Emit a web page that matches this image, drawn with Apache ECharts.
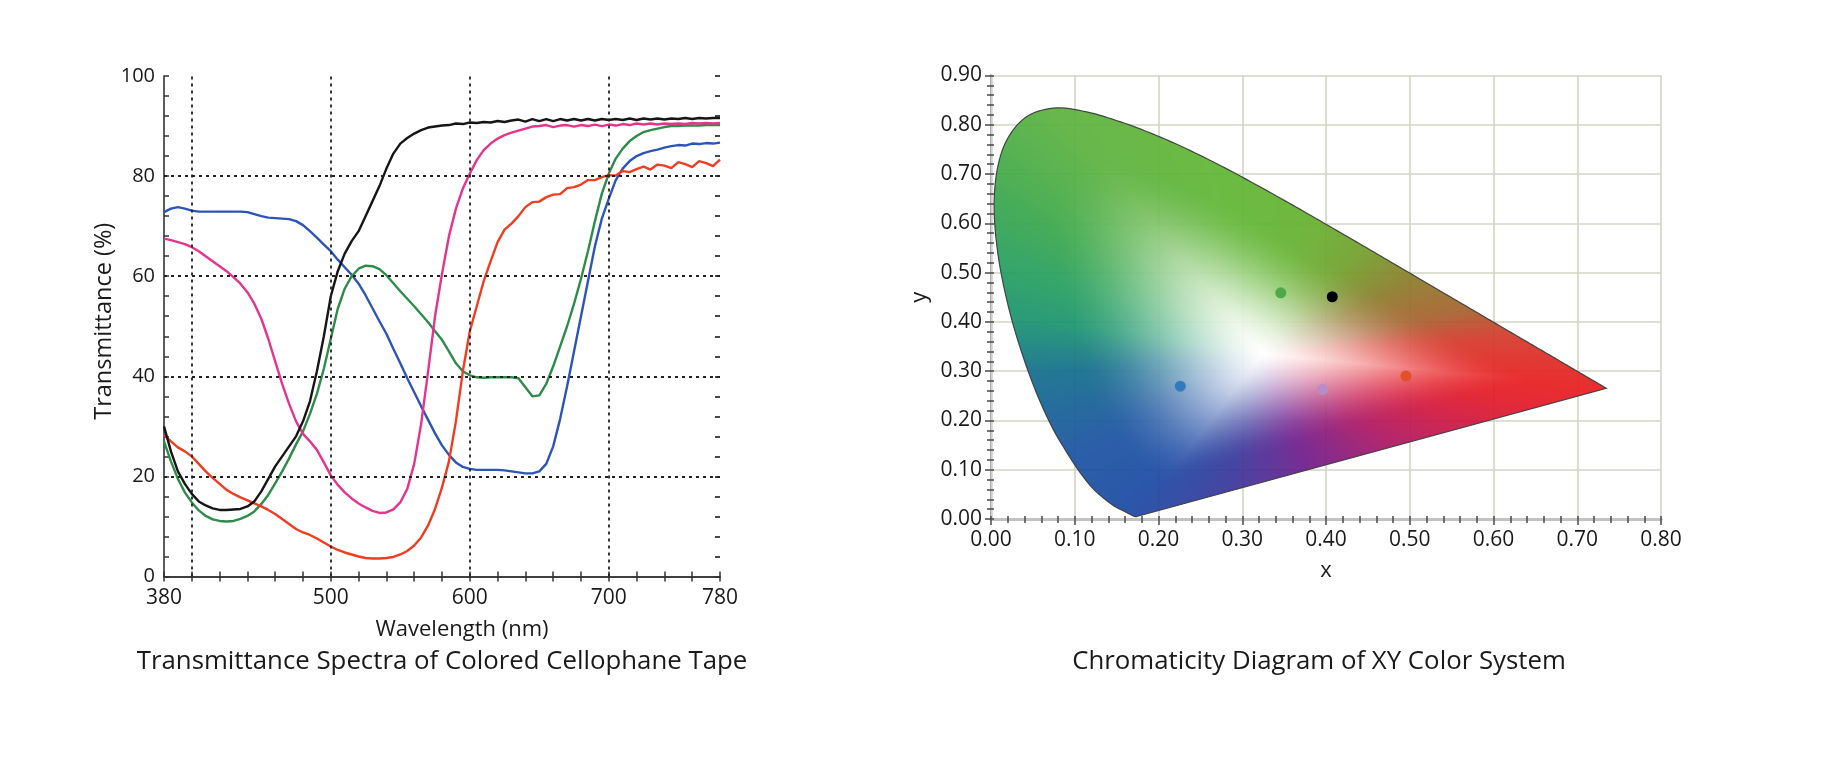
<!DOCTYPE html>
<html><head><meta charset="utf-8">
<script src="https://cdn.jsdelivr.net/npm/echarts@6/dist/echarts.min.js"></script>
<style>html,body{margin:0;padding:0;background:#fff}#c{width:1837px;height:762px}</style>
</head><body><div id="c"></div>
<script>
// ---------- Left chart data ----------
const wavelengths = [380,385,390,395,400,405,410,415,420,425,430,435,440,445,450,455,460,465,470,475,
  480,485,490,495,500,505,510,515,520,525,530,535,540,545,550,555,560,565,570,575,
  580,585,590,595,600,605,610,615,620,625,630,635,640,645,650,655,660,665,670,675,
  680,685,690,695,700,705,710,715,720,725,730,735,740,745,750,755,760,765,770,775,780];
const blackTape = [30,25,21,18.5,16.5,15,14.2,13.6,13.3,13.3,13.4,13.5,14,15,17,19.5,22,24,26,28,
  31,35,41,48,56,61,64.5,67,69,72,75,78,81.5,84.5,86.5,87.6,88.5,89.2,89.7,89.9,
  90.1,90.2,90.5,90.4,90.7,90.6,90.8,90.7,91.0,90.8,91.1,91.3,90.9,91.4,91.0,91.4,91.0,91.4,91.1,91.4,
  91.1,91.4,91.1,91.4,91.2,91.4,91.2,91.5,91.2,91.5,91.3,91.5,91.3,91.5,91.4,91.6,91.4,91.6,91.5,91.6,91.6];
const pinkTape = [67.5,67.2,66.8,66.4,65.8,65,64,63,62,61,59.8,58.5,56.8,54.5,51.5,47.5,43,38.5,34.5,31,
  28.5,27,25.3,22.8,20.2,18.3,16.8,15.6,14.6,13.8,13.1,12.7,12.8,13.4,14.8,17.5,22.5,30.5,41,52,
  60.5,68,73.5,77.5,80.5,83.2,85.2,86.5,87.5,88.2,88.7,89.1,89.5,89.9,90,90.2,89.8,90.1,90.2,89.9,
  90.2,90,90.3,90,90.3,90.1,90.4,90.2,90.5,90.3,90.5,90.3,90.5,90.4,90.5,90.4,90.6,90.5,90.6,90.5,90.6];
const blueTape = [72.8,73.5,73.8,73.5,73.1,72.9,72.9,72.9,72.9,72.9,72.9,72.9,72.8,72.4,72,71.7,71.6,71.5,71.4,71,
  70.2,69,67.7,66.3,65,63.3,61.8,60.3,58.5,56.2,53.6,51,48.5,45.5,42.6,39.6,36.8,34,31.3,28.6,
  26.2,24.3,22.8,21.9,21.5,21.3,21.3,21.3,21.3,21.2,21,20.8,20.6,20.6,21,22.5,26,31.5,38,45,
  52,59,66,71.5,75.5,79.2,81.5,83,84,84.6,85,85.3,85.7,86,86.2,86.1,86.5,86.4,86.6,86.5,86.7];
const greenTape = [27,23,19.5,16.8,14.8,13.2,12.1,11.4,11.1,11,11.1,11.5,12.1,13,14.5,16.3,18.6,21,23.6,26.4,
  29,32.5,36.5,41.5,47.5,53.5,57.5,60,61.5,62.1,62,61.4,60.2,58.6,57,55.5,54,52.4,50.8,49,
  47.3,45,42.6,41,40.2,39.8,39.7,39.8,39.8,39.8,39.8,39.6,37.8,36,36.2,38.5,42,46,50,54.5,
  59.5,65,71,76.5,80.5,83.5,85.5,87,88,88.8,89.2,89.5,89.8,90,90,90.1,90.1,90.1,90.2,90.2,90.2];
const redTape = [28.3,27,25.8,25,24,22.5,21,19.7,18.5,17.3,16.5,15.8,15.2,14.6,14,13.3,12.5,11.5,10.5,9.5,
  8.8,8.3,7.6,6.8,6,5.3,4.8,4.4,4,3.7,3.6,3.6,3.7,3.9,4.4,5.1,6.2,7.8,10.2,13.5,
  17.8,23,31,41,49,54,59,63,66.8,69.3,70.5,72,73.8,74.8,74.9,75.8,76.3,76.4,77.6,77.8,
  78.3,79.2,79.2,79.8,80.2,80.1,81,80.8,81.4,81.9,81.3,82.3,82.1,81.6,82.8,82.4,81.8,83,82.6,82,83.3];
const wavelengthLabels = [380,500,600,700,780];
const wavelengthGrid = [400,500,600,700];
const transmittanceGrid = [20,40,60,80];

// ---------- Right chart data ----------
const locusX = [0.1741,0.1738,0.1733,0.1726,0.1714,0.1689,0.1644,0.1566,0.1440,0.1241,0.1096,0.0913,0.0687,0.0454,0.0235,0.0082,0.0039,0.0139,0.0389,0.0743,0.1142,0.1547,0.1929,0.2296,0.2658,0.3016,0.3373,0.3731,0.4087,0.4441,0.4788,0.5125,0.5448,0.5752,0.6029,0.6270,0.6482,0.6658,0.6801,0.6915,0.7006,0.7079,0.7140,0.7190,0.7230,0.7260,0.7283,0.7300,0.7311,0.7320,0.7334,0.7347];
const locusY = [0.0050,0.0049,0.0048,0.0048,0.0051,0.0069,0.0109,0.0177,0.0297,0.0578,0.0868,0.1327,0.2007,0.2950,0.4127,0.5384,0.6548,0.7502,0.8120,0.8338,0.8262,0.8059,0.7816,0.7543,0.7243,0.6923,0.6589,0.6245,0.5896,0.5547,0.5202,0.4866,0.4544,0.4242,0.3965,0.3725,0.3514,0.3340,0.3197,0.3083,0.2993,0.2920,0.2859,0.2809,0.2770,0.2740,0.2717,0.2700,0.2689,0.2680,0.2666,0.2653];
const tapePointX = [0.226,0.396,0.4955,0.346,0.4075];
const tapePointY = [0.2695,0.263,0.290,0.459,0.451];

// ---------- styles ----------
const tapePointColors = ['#2f7bbd','#b88cc6','#e0502a','#4fa84a','#000000'];
const whitePoint = [0.325,0.335];
const edgeAnchors = [
 [0.7347,0.2653,[232,30,32]],[0.627,0.3725,[212,58,42]],[0.575,0.424,[168,96,46]],
 [0.51,0.487,[140,122,42]],[0.44,0.555,[112,162,44]],[0.37,0.625,[100,178,48]],
 [0.27,0.72,[96,182,52]],[0.075,0.834,[92,178,62]],[0.004,0.65,[55,166,76]],
 [0.008,0.54,[40,160,92]],[0.0235,0.4127,[26,148,110]],[0.0454,0.295,[18,110,140]],
 [0.0913,0.1327,[26,84,160]],[0.1566,0.0177,[26,74,164]],[0.28,0.055,[55,55,155]],
 [0.38,0.10,[112,28,140]],[0.48,0.147,[172,22,100]],[0.58,0.194,[210,22,62]],[0.66,0.23,[226,26,38]]
];
const FONT = '"Open Sans", "Noto Sans", sans-serif';
const TXT = '#1a1a1a';

const chart = echarts.init(document.getElementById('c'), null, {renderer:'canvas', width:1837, height:762});

// Catmull-Rom densification of projected locus (pixel space) for a smooth outline
function splinePts(P, steps) {
  const out = [];
  for (let i = 0; i < P.length - 1; i++) {
    const p0 = P[Math.max(0, i-1)], p1 = P[i], p2 = P[i+1], p3 = P[Math.min(P.length-1, i+2)];
    for (let s = 0; s < steps; s++) {
      const t = s/steps, t2 = t*t, t3 = t2*t;
      const f = k => 0.5*((2*p1[k]) + (-p0[k]+p2[k])*t + (2*p0[k]-5*p1[k]+4*p2[k]-p3[k])*t2 + (-p0[k]+3*p1[k]-3*p2[k]+p3[k])*t3);
      out.push([f(0), f(1)]);
    }
  }
  out.push(P[P.length-1]);
  return out;
}

// ---- texture for the chromaticity fill ----
let texCache = null;
function buildTexture(api, pts) {
  const p0 = api.coord([0,0]), p1 = api.coord([0.8,0.9]);
  const key = p0.join(',') + p1.join(',');
  if (texCache && texCache.key === key) return texCache.canvas;
  const N = 2048;
  const bd = new Float32Array(N);
  const n = locusX.length;
  for (let k = 0; k < N; k++) {
    const a = -Math.PI + 2*Math.PI*k/N;
    const dx = Math.cos(a), dy = Math.sin(a);
    let best = 1e9;
    for (let i = 0; i < n; i++) {
      const ax = locusX[i], ay = locusY[i];
      const bx = locusX[(i+1)%n], by = locusY[(i+1)%n];
      const ex = bx-ax, ey = by-ay;
      const den = dx*(-ey) - dy*(-ex);
      if (Math.abs(den) < 1e-12) continue;
      const rx = ax - whitePoint[0], ry = ay - whitePoint[1];
      const t = (rx*(-ey) - ry*(-ex)) / den;
      const u = (dx*ry - dy*rx) / den;
      if (t > 0 && u >= -1e-6 && u <= 1+1e-6 && t < best) best = t;
    }
    bd[k] = best;
  }
  const anc = edgeAnchors.map(a => ({ang: Math.atan2(a[1]-whitePoint[1], a[0]-whitePoint[0]), c: a[2]}))
    .sort((p,q) => p.ang - q.ang);
  function edgeColor(a) {
    const m = anc.length;
    for (let i = 0; i < m - 1; i++) {
      const A = anc[i], B = anc[i+1];
      if (a >= A.ang && a <= B.ang) {
        const t = (a-A.ang)/(B.ang-A.ang);
        return [A.c[0]+(B.c[0]-A.c[0])*t, A.c[1]+(B.c[1]-A.c[1])*t, A.c[2]+(B.c[2]-A.c[2])*t];
      }
    }
    const A = anc[m-1], B = anc[0];
    let aa = a; if (aa < A.ang) aa += 2*Math.PI;
    const t = (aa - A.ang)/((B.ang + 2*Math.PI) - A.ang);
    return [A.c[0]+(B.c[0]-A.c[0])*t, A.c[1]+(B.c[1]-A.c[1])*t, A.c[2]+(B.c[2]-A.c[2])*t];
  }
  let minx=1e9,maxx=-1e9,miny=1e9,maxy=-1e9;
  pts.forEach(p => { minx=Math.min(minx,p[0]); maxx=Math.max(maxx,p[0]); miny=Math.min(miny,p[1]); maxy=Math.max(maxy,p[1]); });
  const bx = Math.max(0, Math.floor(minx)-2), by = Math.max(0, Math.floor(miny)-2);
  const bw = Math.ceil(maxx)+2-bx, bh = Math.ceil(maxy)+2-by;
  const cv = document.createElement('canvas');
  cv.width = chart.getWidth(); cv.height = chart.getHeight();
  const ctx = cv.getContext('2d');
  const img = ctx.createImageData(bw, bh);
  const sx = 0.8/(p1[0]-p0[0]), sy = 0.9/(p1[1]-p0[1]);
  for (let j = 0; j < bh; j++) {
    const yv = (by + j + 0.5 - p0[1]) * sy;
    for (let i = 0; i < bw; i++) {
      const xv = (bx + i + 0.5 - p0[0]) * sx;
      const dx = xv - whitePoint[0], dy = yv - whitePoint[1];
      const d = Math.sqrt(dx*dx+dy*dy);
      const a = Math.atan2(dy, dx);
      let k = Math.round((a + Math.PI)/(2*Math.PI)*N); if (k >= N) k -= N;
      const s = Math.min(1, d / bd[k]);
      let t = Math.min(1, Math.max(0, (s + 0.1)/0.9));
      let f = t*t*(3 - 2*t);
      f = Math.max(0, (f - 0.034)/(1 - 0.034));
      const ec = edgeColor(a);
      const o = (j*bw + i)*4;
      img.data[o]   = 255 + (ec[0]-255)*f;
      img.data[o+1] = 255 + (ec[1]-255)*f;
      img.data[o+2] = 255 + (ec[2]-255)*f;
      img.data[o+3] = 255;
    }
  }
  ctx.putImageData(img, bx, by);
  texCache = {key, canvas: cv};
  return cv;
}

const axisDark = '#333';
const option = {
  animation: false,
  backgroundColor: '#fff',
  textStyle: {fontFamily: FONT},
  title: [
    {text: 'Transmittance Spectra of Colored Cellophane Tape', left: 437, top: 644, textAlign: 'center',
     textStyle: {fontFamily: FONT, fontSize: 25.8, fontWeight: 'normal', color: TXT}},
    {text: 'Chromaticity Diagram of XY Color System', left: 1314, top: 644, textAlign: 'center',
     textStyle: {fontFamily: FONT, fontSize: 25.8, fontWeight: 'normal', color: TXT}}
  ],
  grid: [
    {left: 164, right: 1837-720, top: 76, bottom: 762-576.5, outerBoundsMode: 'none', containLabel: false},
    {left: 991, right: 1837-1661, top: 75.5, bottom: 762-519, outerBoundsMode: 'none', containLabel: false}
  ],
  xAxis: [
    {gridIndex: 0, type: 'value', min: 380, max: 780, interval: 20, position: 'bottom',
     axisLine: {show: true, lineStyle: {color: axisDark, width: 1.6}},
     axisTick: {show: true, inside: true, length: 5, lineStyle: {color: axisDark, width: 1.5}},
     axisLabel: {show: true, margin: 11, fontSize: 21, color: TXT, fontFamily: FONT,
       formatter: v => wavelengthLabels.indexOf(Math.round(v)) >= 0 ? String(Math.round(v)) : ''},
     splitLine: {show: false},
     name: 'Wavelength (nm)', nameLocation: 'middle', nameGap: 42,
     nameTextStyle: {fontSize: 22, color: TXT, fontFamily: FONT, padding: [0,0,0,40]}},
    {gridIndex: 0, type: 'value', min: 380, max: 780, interval: 20, position: 'top',
     axisLine: {show: true, lineStyle: {color: axisDark, width: 1.6}},
     axisTick: {show: true, inside: true, length: 5, lineStyle: {color: axisDark, width: 1.5}},
     axisLabel: {show: false}, splitLine: {show: false}},
    {gridIndex: 1, type: 'value', min: 0, max: 0.8, interval: 0.1, position: 'bottom',
     axisLine: {show: true, lineStyle: {color: '#4a4a4a', width: 2.5}},
     axisTick: {show: true, inside: false, length: 6, lineStyle: {color: '#4a4a4a', width: 1.5}},
     minorTick: {show: true, splitNumber: 5, length: 4, lineStyle: {color: '#4a4a4a', width: 1.5}},
     axisLabel: {margin: 11, fontSize: 21, color: TXT, fontFamily: FONT, formatter: v => v.toFixed(2)},
     splitLine: {show: true, lineStyle: {color: '#d2d5c4', width: 1.6}},
     name: 'x', nameLocation: 'middle', nameGap: 41,
     nameTextStyle: {fontSize: 22, color: TXT, fontFamily: FONT}},
    {gridIndex: 1, type: 'value', min: 0, max: 0.8, interval: 0.1, position: 'top',
     axisLine: {show: true, lineStyle: {color: '#c2c2c2', width: 3}},
     axisTick: {show: false}, axisLabel: {show: false}, splitLine: {show: false}},
    {gridIndex: 1, type: 'value', min: 0, max: 0.8, interval: 0.1, position: 'bottom',
     axisLine: {show: false},
     axisTick: {show: true, inside: true, length: 3, lineStyle: {color: '#4a4a4a', width: 1.5}},
     minorTick: {show: true, splitNumber: 5, length: 3, lineStyle: {color: '#4a4a4a', width: 1.5}},
     axisLabel: {show: false}, splitLine: {show: false}}
  ],
  yAxis: [
    {gridIndex: 0, type: 'value', min: 0, max: 100, interval: 20, position: 'left',
     axisLine: {show: true, lineStyle: {color: axisDark, width: 1.6}},
     axisTick: {show: true, inside: true, length: 5, lineStyle: {color: axisDark, width: 1.5}},
     minorTick: {show: true, splitNumber: 5, length: 5, lineStyle: {color: axisDark, width: 1.5}},
     axisLabel: {margin: 9, fontSize: 20, color: TXT, fontFamily: FONT},
     splitLine: {show: false},
     name: 'Transmittance (%)', nameLocation: 'middle', nameGap: 43, nameRotate: 90,
     nameTextStyle: {fontSize: 23.5, color: TXT, fontFamily: FONT, padding: [0,0,0,10]}},
    {gridIndex: 0, type: 'value', min: 0, max: 100, interval: 20, position: 'right',
     axisLine: {show: true, lineStyle: {color: 'rgba(0,0,0,0)', width: 1}},
     axisTick: {show: true, inside: true, length: 5, lineStyle: {color: axisDark, width: 1.8}},
     minorTick: {show: true, splitNumber: 5, length: 5, lineStyle: {color: axisDark, width: 1.8}},
     axisLabel: {show: false}, splitLine: {show: false}},
    {gridIndex: 1, type: 'value', min: 0, max: 0.9, interval: 0.1, position: 'left',
     axisLine: {show: true, lineStyle: {color: '#4a4a4a', width: 2}},
     axisTick: {show: true, inside: false, length: 6, lineStyle: {color: '#4a4a4a', width: 1.5}},
     minorTick: {show: true, splitNumber: 5, length: 4, lineStyle: {color: '#4a4a4a', width: 1.5}},
     axisLabel: {margin: 9, fontSize: 21, color: TXT, fontFamily: FONT, formatter: v => v.toFixed(2)},
     splitLine: {show: true, lineStyle: {color: '#d2d5c4', width: 1.6}},
     name: 'y', nameLocation: 'middle', nameGap: 60, nameRotate: 90,
     nameTextStyle: {fontSize: 22, color: TXT, fontFamily: FONT}},
    {gridIndex: 1, type: 'value', min: 0, max: 0.9, interval: 0.1, position: 'right',
     axisLine: {show: true, lineStyle: {color: '#cfcfcf', width: 2.5}},
     axisTick: {show: false}, axisLabel: {show: false}, splitLine: {show: false}},
    {gridIndex: 1, type: 'value', min: 0, max: 0.9, interval: 0.1, position: 'left',
     axisLine: {show: false},
     axisTick: {show: true, inside: true, length: 3, lineStyle: {color: '#4a4a4a', width: 1.5}},
     minorTick: {show: true, splitNumber: 5, length: 3, lineStyle: {color: '#4a4a4a', width: 1.5}},
     axisLabel: {show: false}, splitLine: {show: false}}
  ],
  series: [
    {type: 'line', xAxisIndex: 0, yAxisIndex: 0, data: [], silent: true,
     markLine: {silent: true, symbol: ['none','none'], label: {show: false}, animation: false,
       lineStyle: {color: '#222', type: [3,4], width: 1.8},
       data: wavelengthGrid.map(v => ({xAxis: v})).concat(transmittanceGrid.map(v => ({yAxis: v})))}},
    {name: 'blue', type: 'line', xAxisIndex: 0, yAxisIndex: 0, showSymbol: false, symbol: 'none',
     data: wavelengths.map((w,i) => [w, blueTape[i]]), lineStyle: {color: '#2d55b8', width: 2.4}},
    {name: 'green', type: 'line', xAxisIndex: 0, yAxisIndex: 0, showSymbol: false, symbol: 'none',
     data: wavelengths.map((w,i) => [w, greenTape[i]]), lineStyle: {color: '#2e8b4a', width: 2.4}},
    {name: 'red', type: 'line', xAxisIndex: 0, yAxisIndex: 0, showSymbol: false, symbol: 'none',
     data: wavelengths.map((w,i) => [w, redTape[i]]), lineStyle: {color: '#f03c20', width: 2.4}},
    {name: 'pink', type: 'line', xAxisIndex: 0, yAxisIndex: 0, showSymbol: false, symbol: 'none',
     data: wavelengths.map((w,i) => [w, pinkTape[i]]), lineStyle: {color: '#e6338c', width: 2.4}},
    {name: 'black', type: 'line', xAxisIndex: 0, yAxisIndex: 0, showSymbol: false, symbol: 'none',
     data: wavelengths.map((w,i) => [w, blackTape[i]]), lineStyle: {color: '#151515', width: 2.4}},
    {type: 'custom', xAxisIndex: 2, yAxisIndex: 2, silent: true, clip: false, data: [[0,0]],
     renderItem: function (params, api) {
       const raw = locusX.map((x,i) => api.coord([x, locusY[i]]));
       const pts = splinePts(raw, 8);
       const tex = buildTexture(api, pts);
       return {type: 'polygon', shape: {points: pts},
         style: {fill: {image: tex, repeat: 'no-repeat'}, stroke: '#3a3a3a', lineWidth: 1.2, opacity: 0.93}};
     }},
    {type: 'scatter', xAxisIndex: 2, yAxisIndex: 2, symbolSize: 11, silent: true,
     data: tapePointX.map((x,i) => ({value: [x, tapePointY[i]], itemStyle: {color: tapePointColors[i], opacity: 1}}))}
  ]
};
chart.setOption(option);
</script></body></html>
